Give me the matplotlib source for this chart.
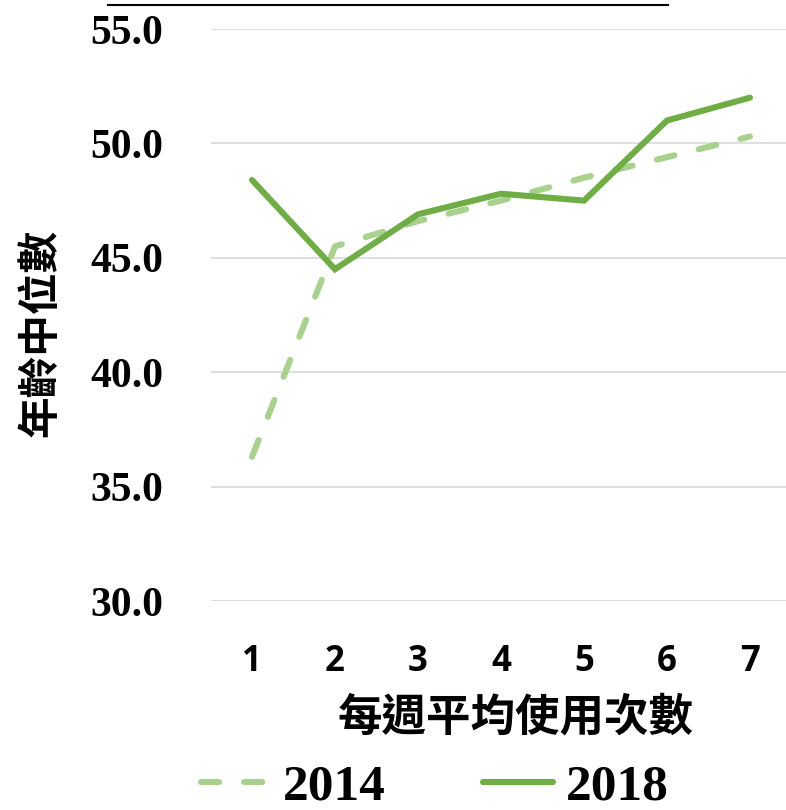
import matplotlib
matplotlib.use("Agg")
import matplotlib.pyplot as plt
from matplotlib.lines import Line2D

plt.rcParams["lines.scale_dashes"] = False

# data
uses_per_week = [1, 2, 3, 4, 5, 6, 7]
median_age_2014 = [36.3, 45.5, 46.6, 47.5, 48.5, 49.4, 50.3]
median_age_2018 = [48.4, 44.5, 46.9, 47.8, 47.5, 51.0, 52.0]
y_ticks = [30.0, 35.0, 40.0, 45.0, 50.0, 55.0]

W, H = 786, 810
fig = plt.figure(figsize=(W / 100, H / 100), dpi=100)

# axes box in pixels: left 210.5, right 791.5, top 29, bottom 601
left, right, top, bottom = 210.5, 791.5, 29, 601
ax = fig.add_axes([left / W, 1 - bottom / H, (right - left) / W, (bottom - top) / H])

ax.plot(uses_per_week, median_age_2014, color="#A9D18E", lw=4.4,
        dashes=(13, 18), dash_capstyle="round", solid_capstyle="round", label="2014")
ax.plot(uses_per_week, median_age_2018, color="#70AD47", lw=4.4,
        solid_capstyle="round", solid_joinstyle="miter", label="2018")

ax.set_xlim(0.5, 7.5)
ax.set_ylim(30, 55)
ax.set_yticks(y_ticks)
ax.set_yticklabels([f"{v:.1f}" for v in y_ticks], fontfamily="Liberation Serif",
                   fontweight="bold", fontsize=30)
ax.set_xticks(uses_per_week)
ax.set_xticklabels([str(v) for v in uses_per_week], fontfamily="Open Sans",
                   fontweight="bold", fontsize=25)
ax.tick_params(axis="y", length=0, pad=34)
ax.tick_params(axis="x", length=0, pad=31)

ax.grid(axis="y", color="#D9D9D9", lw=1.2)
ax.set_axisbelow(True)
for s in ax.spines.values():
    s.set_visible(False)

cjk = ["Noto Sans CJK TC", "DejaVu Sans"]
fig.text(40 / W, 1 - 333 / H, "年齡中位數", rotation=90, ha="center", va="center",
         family=cjk, fontsize=30, fontweight="bold")
fig.text(516 / W, 1 - 718 / H, "每週平均使用次數", ha="center", va="center",
         family=cjk, fontsize=32, fontweight="bold")

# thin black rule along the top
fig.add_artist(Line2D([108 / W, 668 / W], [1 - 4.5 / H, 1 - 4.5 / H], color="black", lw=1.5))

leg = fig.legend(loc="center", bbox_to_anchor=(0.553, 1 - 787 / H), ncol=2, frameon=False,
                 prop={"family": "Liberation Serif", "weight": "bold", "size": 37},
                 handlelength=1.35, handletextpad=0.25, columnspacing=1.9, borderpad=0)

fig.savefig("out.png", dpi=100)
